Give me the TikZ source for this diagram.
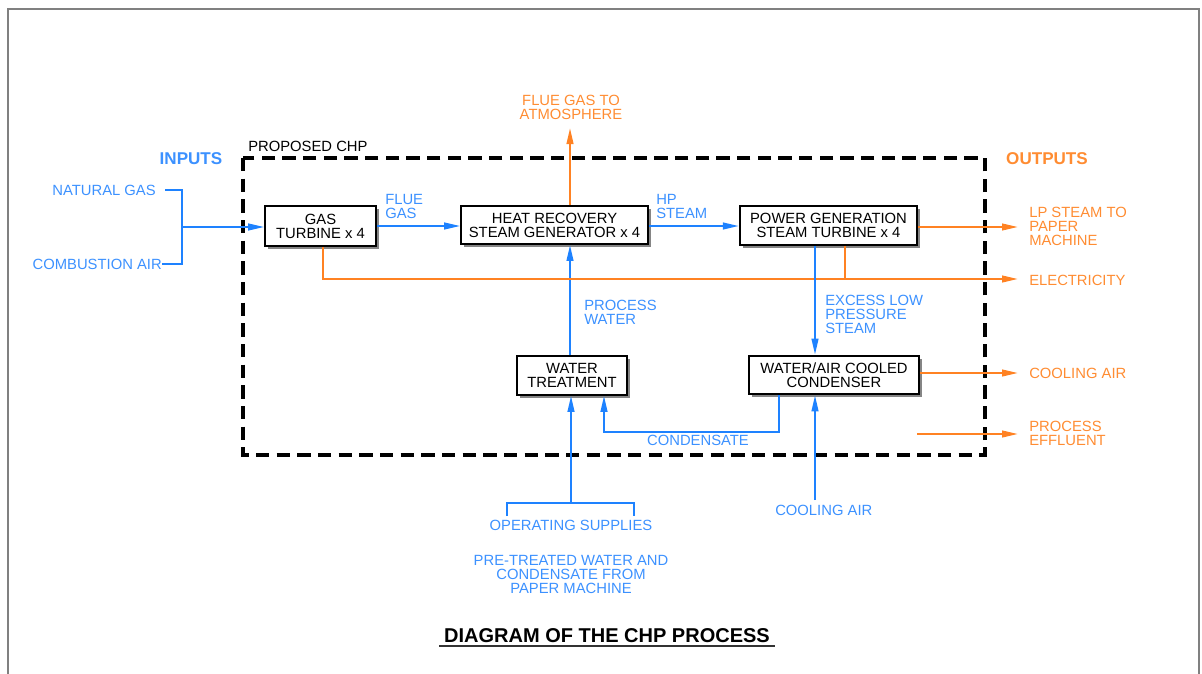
\documentclass[tikz,border=0pt]{standalone}
\usepackage{fontspec}
\setmainfont{Liberation Sans}
\usetikzlibrary{arrows.meta,shadows,calc}
\definecolor{bluel}{RGB}{30,130,255}
\definecolor{bluet}{RGB}{60,145,255}
\definecolor{orl}{RGB}{255,130,35}
\definecolor{ort}{RGB}{255,140,50}
\begin{document}
\begin{tikzpicture}[x=0.75pt,y=-0.75pt,
  txt/.style={font=\fontsize{11.1}{10.5}\selectfont, inner sep=0pt},
  btxt/.style={txt, text=bluet, align=left},
  otxt/.style={txt, text=ort, align=left},
  procbox/.style={draw, line width=1.4pt, fill=white, inner sep=0pt, align=center,
     font=\fontsize{11.1}{10.5}\selectfont,
     drop shadow={shadow xshift=2.2pt, shadow yshift=-2.2pt, fill=black!60, opacity=0.8}},
  bflow/.style={draw=bluel, line width=1.5pt},
  oflow/.style={draw=orl, line width=1.5pt},
  barrow/.style={bflow, -{Triangle[length=12pt,width=5pt]}},
  oarrow/.style={oflow, -{Triangle[length=12pt,width=5pt]}},
  boundary/.style={draw=black, line width=3pt, dash pattern=on 10pt off 5.5pt}
]
\useasboundingbox (0,0) rectangle (1202,674);
% page frame
\draw[gray, line width=1.5pt] (8,674) -- (8,9) -- (1199,9) -- (1199,674);

% system boundary
\draw[boundary] (243,158) rectangle (985,455);
\node[txt, anchor=west] (chp) at (248,146) {PROPOSED CHP};
\node[txt, text=bluet, font=\fontsize{12.8}{12}\selectfont\bfseries] (inputs) at (191,159) {INPUTS};
\node[txt, text=ort, font=\fontsize{12.8}{12}\selectfont\bfseries] (outputs) at (1047,159) {OUTPUTS};

% process boxes
\node[procbox, minimum width=83pt, minimum height=30pt] (gt) at (320.5,226) {GAS\\TURBINE x 4};
\node[procbox, minimum width=140pt, minimum height=28.5pt] (hrsg) at (554.5,225) {HEAT RECOVERY\\STEAM GENERATOR x 4};
\node[procbox, minimum width=133pt, minimum height=29pt] (pg) at (828.5,225.5) {POWER GENERATION\\STEAM TURBINE x 4};
\node[procbox, minimum width=127.5pt, minimum height=29pt] (cond) at (834,375) {WATER/AIR COOLED\\CONDENSER};
\node[procbox, minimum width=83pt, minimum height=29pt] (wt) at (572,375.5) {WATER\\TREATMENT};

% coordinates
\coordinate (jin) at (182,227);
\coordinate (xatm) at (570,128);
\coordinate (xcs) at (604,432);
\coordinate (xcd) at (779,432);
\coordinate (xex) at (815,300);
\coordinate (ele) at (1018,279);
\coordinate (lpend) at (1018,227);
\coordinate (caend) at (1018,373);
\coordinate (effst) at (917,434);
\coordinate (effend) at (1018,434);
\coordinate (opj) at (571,503);
\coordinate (ca) at (815,500);
\coordinate (gte) at (323,279);
\coordinate (pge) at (845,279);

% input labels
\node[btxt, anchor=east] (ng) at (156,190) {NATURAL GAS};
\node[btxt, anchor=east] (cair) at (162,264) {COMBUSTION AIR};
\draw[bflow] (165,190) -- (182,190) -- (182,264) -- (cair.east);
\draw[barrow] (jin) -- (jin -| gt.west);

% main flows
\draw[barrow] (gt.east |- 0,226) -- (hrsg.west |- 0,226);
\node[btxt, anchor=west] (fg) at (385,206) {FLUE\\GAS};
\draw[barrow] (hrsg.east |- 0,226) -- (pg.west |- 0,226);
\node[btxt, anchor=west] (hp) at (656,206) {HP\\STEAM};

\draw[oarrow] (hrsg.north -| xatm) -- (xatm);
\node[otxt, align=center] (atm) at (571,107) {FLUE GAS TO\\ATMOSPHERE};

\draw[barrow] (wt.north -| xatm) -- (hrsg.south -| xatm);
\node[btxt, anchor=west] (pw) at (584,312) {PROCESS\\WATER};

% electricity
\draw[oarrow] (gt.south -| gte) -- (gte) -- (ele);
\draw[oflow] (pg.south -| pge) -- (pge);
\node[otxt, anchor=west] (elec) at (1029,280) {ELECTRICITY};

% LP steam
\draw[oarrow] (pg.east |- lpend) -- (lpend);
\node[otxt, anchor=west] (lp) at (1029,226) {LP STEAM TO\\PAPER\\MACHINE};

% excess LP steam
\draw[barrow] (pg.south -| xex) -- (cond.north -| xex);
\node[btxt, anchor=west] (ex) at (825,314) {EXCESS LOW\\PRESSURE\\STEAM};

% condenser outputs
\draw[oarrow] (cond.east |- caend) -- (caend);
\node[otxt, anchor=west] (caout) at (1029,373) {COOLING AIR};
\draw[oarrow] (effst) -- (effend);
\node[otxt, anchor=west] (eff) at (1029,433) {PROCESS\\EFFLUENT};

% condensate
\draw[barrow] (cond.south -| xcd) -- (xcd) -- (xcs) -- (wt.south -| xcs);
\node[btxt] (cs) at (698,440) {CONDENSATE};

% operating supplies
\draw[bflow] (507,516) -- (507,503) -- (634,503) -- (634,516);
\draw[barrow] (opj) -- (wt.south -| opj);
\node[btxt] (ops) at (571,525) {OPERATING SUPPLIES};
\node[btxt, align=center] (pre) at (571,574) {PRE-TREATED WATER AND\\CONDENSATE FROM\\PAPER MACHINE};

% cooling air in
\draw[barrow] (ca) -- (cond.south -| ca);
\node[btxt, anchor=west] (cain) at (775,510) {COOLING AIR};

% title
\node[txt, font=\fontsize{15}{15}\selectfont\bfseries] (title) at (607,636) {DIAGRAM OF THE CHP PROCESS};
\draw[black!80, line width=1.2pt] (439,646) -- (775,646);
\end{tikzpicture}
\end{document}
